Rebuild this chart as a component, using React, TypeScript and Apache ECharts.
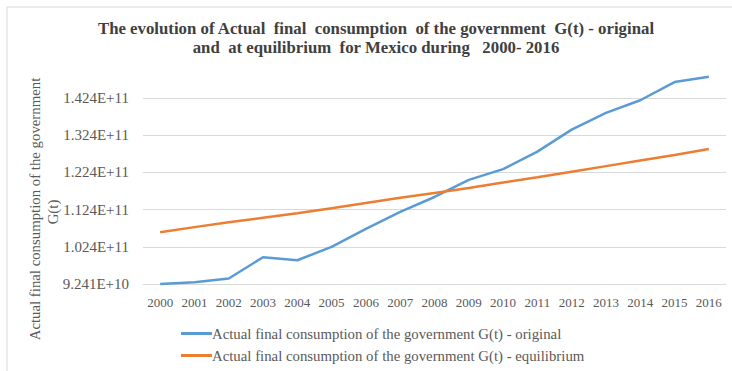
import React, { useEffect, useRef } from "react";
import * as echarts from "echarts";

const years = ["2000","2001","2002","2003","2004","2005","2006","2007","2008","2009","2010","2011","2012","2013","2014","2015","2016"];
const originalG = [9.241e10, 9.29e10, 9.39e10, 9.96e10, 9.88e10, 10.24e10, 10.72e10, 11.18e10, 11.58e10, 12.04e10, 12.33e10, 12.8e10, 13.39e10, 13.84e10, 14.18e10, 14.67e10, 14.81e10];
const equilibriumG = [10.63e10, 10.77e10, 10.9e10, 11.02e10, 11.14e10, 11.28e10, 11.42e10, 11.56e10, 11.69e10, 11.82e10, 11.97e10, 12.11e10, 12.26e10, 12.41e10, 12.56e10, 12.71e10, 12.87e10];
const yMin = 9.241e10;
const yMax = 14.241e10;
const yStep = 1e10;
const seriesNames = [
  "Actual final consumption of the government G(t) - original",
  "Actual final consumption of the government G(t) - equilibrium",
];
const titleLines = [
  "The evolution of Actual  final  consumption  of the government  G(t) - original",
  "and  at equilibrium  for Mexico during   2000- 2016",
];
const yAxisTitle = ["Actual final consumption of the government", "G(t)"];

const SERIF = "'Liberation Serif', 'DejaVu Serif', serif";

function fmt(v: number): string {
  const e = Math.floor(Math.log10(v) + 1e-9);
  const m = v / Math.pow(10, e);
  return m.toFixed(3) + "E+" + e;
}

export default function App() {
  const ref = useRef<HTMLDivElement>(null);
  useEffect(() => {
    if (!ref.current) return;
    const chart = echarts.init(ref.current, null, { renderer: "svg" });
    chart.setOption({
      animation: false,
      backgroundColor: "#ffffff",
      graphic: [
        {
          type: "rect",
          shape: { x: 7, y: 7, width: 740, height: 420 },
          style: { fill: "none", stroke: "#d9d9d9", lineWidth: 1 },
          z: -1,
        },
        {
          type: "text",
          x: 376,
          y: 28,
          style: {
            text: titleLines[0],
            font: "bold 16.8px " + SERIF,
            fill: "#404040",
            textAlign: "center",
            textVerticalAlign: "middle",
          },
        },
        {
          type: "text",
          x: 376,
          y: 47,
          style: {
            text: titleLines[1],
            font: "bold 16.8px " + SERIF,
            fill: "#404040",
            textAlign: "center",
            textVerticalAlign: "middle",
          },
        },
        {
          type: "text",
          x: 35,
          y: 209,
          rotation: Math.PI / 2,
          style: {
            text: yAxisTitle[0],
            font: "14.8px " + SERIF,
            fill: "#595959",
            textAlign: "center",
            textVerticalAlign: "middle",
          },
        },
        {
          type: "text",
          x: 53,
          y: 212,
          rotation: Math.PI / 2,
          style: {
            text: yAxisTitle[1],
            font: "14.8px " + SERIF,
            fill: "#595959",
            textAlign: "center",
            textVerticalAlign: "middle",
          },
        },
      ],
      legend: {
        orient: "vertical",
        left: 176,
        top: 321,
        itemWidth: 31,
        itemHeight: 3,
        itemGap: 7,
        icon: "rect",
        textStyle: {
          fontFamily: SERIF,
          fontSize: 14.8,
          color: "#595959",
          padding: [0, 0, 0, -5],
        },
        data: seriesNames,
      },
      grid: { left: 143, right: 6, top: 98, bottom: 87, containLabel: false },
      xAxis: {
        type: "category",
        data: years,
        boundaryGap: true,
        axisLine: { show: false },
        axisTick: { show: false },
        axisLabel: {
          fontFamily: SERIF,
          fontSize: 13,
          color: "#595959",
          margin: 12,
          interval: 0,
        },
      },
      yAxis: {
        type: "value",
        min: yMin,
        max: yMax,
        interval: yStep,
        axisLine: { show: false },
        axisTick: { show: false },
        splitLine: { lineStyle: { color: "#d9d9d9", width: 1 } },
        axisLabel: {
          fontFamily: SERIF,
          fontSize: 15,
          color: "#595959",
          margin: 14,
          formatter: (v: number) => fmt(v),
        },
      },
      series: [
        {
          name: seriesNames[0],
          type: "line",
          data: originalG,
          symbol: "none",
          clip: false,
          lineStyle: { color: "#5b9bd5", width: 2.5 },
          itemStyle: { color: "#5b9bd5" },
        },
        {
          name: seriesNames[1],
          type: "line",
          data: equilibriumG,
          symbol: "none",
          clip: false,
          lineStyle: { color: "#ed7d31", width: 2.5 },
          itemStyle: { color: "#ed7d31" },
        },
      ],
    });
    return () => chart.dispose();
  }, []);
  return (
    <div
      ref={ref}
      style={{ position: "absolute", left: 0, top: 0, width: 732, height: 371 }}
    />
  );
}
